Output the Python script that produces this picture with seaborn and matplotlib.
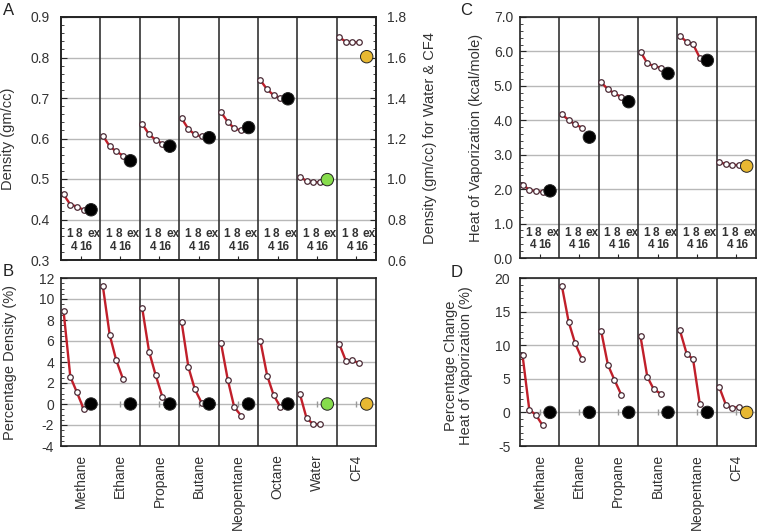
import numpy as np
import pandas as pd
import seaborn as sns
import matplotlib.pyplot as plt
from matplotlib.ticker import MultipleLocator, FormatStrFormatter
from matplotlib.transforms import blended_transform_factory

# ---- data ----
compounds_ab = ["Methane", "Ethane", "Propane", "Butane", "Neopentane", "Octane", "Water", "CF4"]
compounds_cd = ["Methane", "Ethane", "Propane", "Butane", "Neopentane", "CF4"]
runs = ["1", "4", "8", "16"]

density_sim = [
    [0.462, 0.437, 0.432, 0.424],
    [0.607, 0.581, 0.568, 0.558],
    [0.636, 0.610, 0.597, 0.587],
    [0.650, 0.623, 0.610, 0.605],
    [0.665, 0.641, 0.625, 0.620],
    [0.744, 0.721, 0.707, 0.700],
    [1.012, 0.990, 0.984, 0.984],
    [1.700, 1.678, 1.675, 1.675],
]
density_exp = [0.424, 0.545, 0.581, 0.602, 0.627, 0.698, 0.997, 1.604]

pct_density = [
    [8.9, 2.6, 1.15, -0.45],
    [11.2, 6.6, 4.2, 2.4],
    [9.1, 5.0, 2.8, 0.7],
    [7.8, 3.5, 1.4, 0.1],
    [5.8, 2.3, -0.3, -1.1],
    [6.0, 2.7, 0.85, -0.3],
    [1.0, -1.35, -1.9, -1.95],
    [5.75, 4.1, 4.15, 3.9],
]
pct_density_exp = [0, 0, 0, 0, 0, 0, 0, 0]

hvap_sim = [
    [2.13, 1.98, 1.94, 1.92],
    [4.17, 4.01, 3.88, 3.79],
    [5.10, 4.90, 4.78, 4.68],
    [5.99, 5.66, 5.57, 5.53],
    [6.45, 6.28, 6.21, 5.81],
    [2.78, 2.73, 2.70, 2.70],
]
hvap_exp = [1.95, 3.51, 4.54, 5.36, 5.74, 2.67]

pct_hvap = [
    [8.55, 0.4, -0.35, -1.9],
    [18.85, 13.5, 10.3, 8.0],
    [12.1, 7.05, 4.85, 2.65],
    [11.3, 5.3, 3.45, 2.8],
    [12.25, 8.75, 7.9, 1.2],
    [3.8, 1.1, 0.65, 0.85],
]
pct_hvap_exp = [0, 0, 0, 0, 0, 0]

# ---- style ----
RED = "#c01f2a"
EDGE = "#4a2a35"
GRID = "#b8b8b8"
TXT = "#333333"
ex_colors = {c: "black" for c in compounds_ab}
ex_colors["Water"] = "#86dc4c"
ex_colors["CF4"] = "#e8b832"

COLW = 5.5
slot_x = [0.35, 1.3, 2.2, 3.15, 4.2]   # 1, 4, 8, 16, ex within a column
lab_x = [1.15, 1.85, 2.55, 3.45, 4.6]
lab_row = [0.105, 0.055, 0.105, 0.055, 0.105]

sns.set_style("ticks")
plt.rcParams["font.family"] = ["Liberation Sans", "DejaVu Sans"]
plt.rcParams["axes.linewidth"] = 1.2
plt.rcParams["axes.edgecolor"] = "#222222"

W, H = 758, 532
fig = plt.figure(figsize=(W / 100, H / 100), dpi=100)


def px_axes(l, t, r, b):
    return fig.add_axes([l / W, 1 - b / H, (r - l) / W, (b - t) / H])


def frames(names, sim, exp):
    sim_rows, exp_rows = [], []
    for i, name in enumerate(names):
        for j, v in enumerate(sim[i]):
            sim_rows.append({"compound": name, "run": runs[j],
                             "x": i * COLW + slot_x[j], "y": v})
        exp_rows.append({"compound": name, "x": i * COLW + slot_x[4], "y": exp[i]})
    return pd.DataFrame(sim_rows), pd.DataFrame(exp_rows)


def draw(ax, dsim, dexp):
    sns.lineplot(data=dsim, x="x", y="y", units="compound", estimator=None,
                 color=RED, lw=1.7, marker="o", ms=4, mfc="white", mec=EDGE,
                 mew=0.9, ax=ax, legend=False, zorder=4)
    sns.scatterplot(data=dexp, x="x", y="y", hue="compound", palette=ex_colors,
                    s=80, edgecolor="#222222", linewidth=0.7, ax=ax,
                    legend=False, zorder=5)
    ax.set_xlabel("")
    ax.set_ylabel("")


def frame(ax, n, labels, ylim, major, minor, fmt, pad):
    ax.set_xlim(0, n * COLW)
    ax.set_ylim(*ylim)
    for k in range(1, n):
        ax.axvline(k * COLW, color="#333333", lw=1.2, zorder=2)
    ax.yaxis.set_major_locator(MultipleLocator(major))
    ax.yaxis.set_minor_locator(MultipleLocator(minor))
    ax.yaxis.set_major_formatter(FormatStrFormatter(fmt))
    ax.grid(axis="y", color=GRID, lw=1, zorder=1)
    ax.set_axisbelow(True)
    ax.tick_params(axis="y", which="major", direction="in", length=4, pad=pad,
                   labelsize=10, labelcolor=TXT)
    ax.tick_params(axis="y", which="minor", direction="in", length=2.5)
    centers = [(k + 0.5) * COLW for k in range(n)]
    ax.set_xticks(centers)
    if labels is None:
        ax.set_xticklabels([])
        ax.tick_params(axis="x", direction="in", length=3)
        tr = blended_transform_factory(ax.transData, ax.transAxes)
        for k in range(n):
            for t, xx, yy in zip(runs + ["ex"], lab_x, lab_row):
                ax.text(k * COLW + xx, yy, t, transform=tr, ha="center",
                        va="center", fontsize=8.5, fontweight="bold",
                        color=TXT)
    else:
        ax.set_xticklabels(labels, rotation=90, fontsize=10, color=TXT)
        ax.tick_params(axis="x", length=0, pad=6)
        ax.plot(centers, [0] * n, "|", color="#999999", ms=4, zorder=2)


# ---- panel A ----
axA = px_axes(61, 17, 376, 260)
dsim, dexp = frames(compounds_ab, density_sim, density_exp)
left = dsim["compound"].isin(compounds_ab[:6])
draw(axA, dsim[left], dexp[dexp["compound"].isin(compounds_ab[:6])])
frame(axA, 8, None, (0.3, 0.9), 0.1, 0.02, "%.1f", 8)
axA.set_ylabel("Density (gm/cc)", fontsize=10.5, color=TXT)
axA.yaxis.set_label_coords(-0.145, 0.5)

axA2 = axA.twinx()
draw(axA2, dsim[~left], dexp[~dexp["compound"].isin(compounds_ab[:6])])
axA2.set_xlim(0, 8 * COLW)
axA2.set_ylim(0.6, 1.8)
axA2.yaxis.set_major_locator(MultipleLocator(0.2))
axA2.yaxis.set_minor_locator(MultipleLocator(0.04))
axA2.yaxis.set_major_formatter(FormatStrFormatter("%.1f"))
axA2.tick_params(axis="y", which="major", direction="in", length=4, pad=8,
                 labelsize=10, labelcolor=TXT)
axA2.tick_params(axis="y", which="minor", direction="in", length=2.5)
axA2.set_ylabel("Density (gm/cc) for Water & CF4", fontsize=10.5, color=TXT)
axA2.yaxis.set_label_coords(1.15, 0.5)

# ---- panel B ----
axB = px_axes(61, 278, 376, 446)
dsim, dexp = frames(compounds_ab, pct_density, pct_density_exp)
draw(axB, dsim, dexp)
frame(axB, 8, compounds_ab, (-4, 12), 2, 0.5, "%d", 5)
axB.set_ylabel("Percentage Density (%)", fontsize=10.5, color=TXT)
axB.yaxis.set_label_coords(-0.14, 0.5)

# ---- panel C ----
axC = px_axes(520, 17, 756, 258)
dsim, dexp = frames(compounds_cd, hvap_sim, hvap_exp)
draw(axC, dsim, dexp)
frame(axC, 6, None, (0, 7), 1, 0.2, "%.1f", 5)
axC.set_ylabel("Heat of Vaporization (kcal/mole)", fontsize=10.5, color=TXT)
axC.yaxis.set_label_coords(-0.157, 0.5)

# ---- panel D ----
axD = px_axes(520, 278, 756, 446)
dsim, dexp = frames(compounds_cd, pct_hvap, pct_hvap_exp)
draw(axD, dsim, dexp)
frame(axD, 6, compounds_cd, (-5, 20), 5, 1, "%d", 7)
axD.set_ylabel("Percentage Change\nHeat of Vaporization (%)", fontsize=10.5,
               color=TXT, linespacing=1.1)
axD.yaxis.set_label_coords(-0.2, 0.48)

for lab, x, y in [("A", 3, 3), ("B", 3, 264), ("C", 460, 3), ("D", 451, 265)]:
    fig.text(x / W, 1 - y / H, lab, fontsize=12, ha="left", va="top", color="#222222")

fig.savefig("out.png", dpi=100)
